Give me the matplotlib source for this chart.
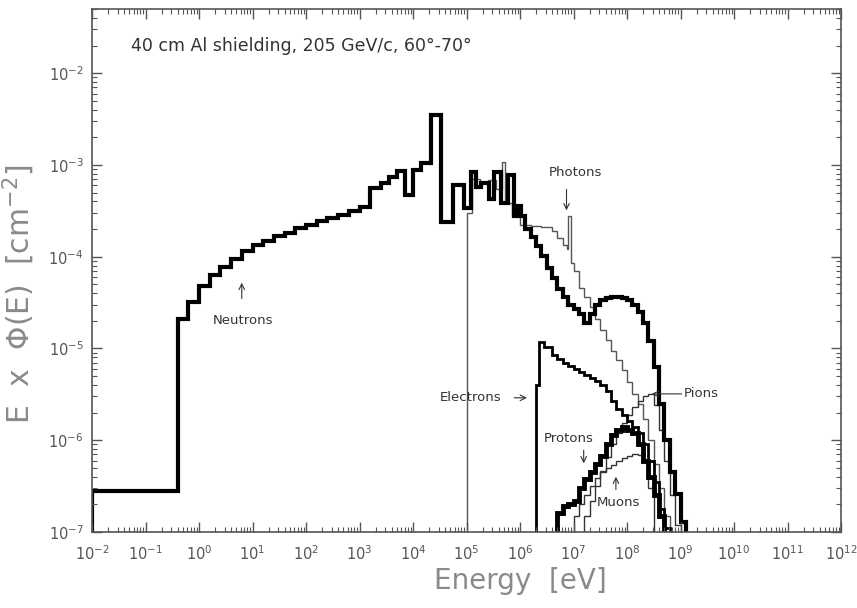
import numpy as np
import matplotlib
matplotlib.use("Agg")
import matplotlib.pyplot as plt

# ---------------- data (log10 of energy bin edges in eV, flux values) ----------------
neutron_edges_log = [-2.0, -0.4, -0.2, 0.0, 0.2, 0.4, 0.6, 0.8, 1.0, 1.2, 1.4, 1.6, 1.8,
                     2.0, 2.2, 2.4, 2.6, 2.8, 3.0, 3.2, 3.4, 3.55, 3.7, 3.85, 4.0, 4.15,
                     4.33, 4.52, 4.74, 4.95, 5.08, 5.17, 5.28, 5.42, 5.51, 5.64, 5.77, 5.88,
                     5.96, 6.01, 6.1, 6.2, 6.3, 6.4, 6.5, 6.6, 6.7, 6.8, 6.9, 7.0, 7.1,
                     7.2, 7.3, 7.4, 7.5, 7.6, 7.7, 7.8, 7.9, 8.0, 8.1, 8.2, 8.3, 8.4, 8.5,
                     8.6, 8.7, 8.8, 8.9, 9.0, 9.1]
neutron_flux = [2.8e-7, 2.1e-5, 3.2e-5, 4.8e-5, 6.3e-5, 7.8e-5, 9.5e-5, 1.15e-4, 1.35e-4,
                1.48e-4, 1.66e-4, 1.82e-4, 2.04e-4, 2.24e-4, 2.45e-4, 2.63e-4, 2.88e-4,
                3.16e-4, 3.47e-4, 5.6e-4, 6.3e-4, 7.4e-4, 8.5e-4, 4.7e-4, 8.7e-4, 1.05e-3,
                3.5e-3, 2.4e-4, 6.0e-4, 3.4e-4, 8.3e-4, 5.8e-4, 6.3e-4, 4.2e-4, 8.3e-4,
                3.8e-4, 7.8e-4, 2.8e-4, 3.6e-4, 2.8e-4, 2.0e-4, 1.62e-4, 1.32e-4, 1.02e-4,
                7.6e-5, 5.8e-5, 4.5e-5, 3.6e-5, 3.0e-5, 2.7e-5, 2.35e-5, 1.9e-5, 2.4e-5,
                3.0e-5, 3.4e-5, 3.55e-5, 3.6e-5, 3.6e-5, 3.55e-5, 3.4e-5, 3.0e-5, 2.5e-5,
                1.9e-5, 1.2e-5, 6.3e-6, 2.5e-6, 1.0e-6, 4.5e-7, 2.6e-7, 1.3e-7]

photon_edges_log = [5.0, 5.1, 5.25, 5.4, 5.55, 5.66, 5.72, 5.85, 6.0, 6.2, 6.4, 6.6, 6.7,
                    6.8, 6.87, 6.9, 6.95, 7.0, 7.1, 7.2, 7.3, 7.4, 7.5, 7.6, 7.7, 7.8, 7.9,
                    8.0, 8.1, 8.2, 8.3, 8.4, 8.5, 8.6, 8.7, 8.8]
photon_flux = [3.0e-4, 7.0e-4, 6.3e-4, 6.8e-4, 5.5e-4, 1.07e-3, 3.8e-4, 2.8e-4, 2.2e-4,
               2.15e-4, 2.1e-4, 1.9e-4, 1.6e-4, 1.35e-4, 1.2e-4, 2.75e-4, 8.5e-5, 7.0e-5,
               4.6e-5, 3.6e-5, 2.8e-5, 2.1e-5, 1.6e-5, 1.25e-5, 9.5e-6, 7.5e-6, 5.8e-6,
               4.3e-6, 3.2e-6, 2.5e-6, 1.7e-6, 1.0e-6, 5.5e-7, 3.0e-7, 1.5e-7]

electron_edges_log = [6.3, 6.35, 6.45, 6.6, 6.7, 6.8, 6.9, 7.0, 7.1, 7.2, 7.3, 7.4, 7.5,
                      7.6, 7.7, 7.8, 7.9, 8.0, 8.1, 8.2, 8.3, 8.4, 8.5, 8.6, 8.7, 8.8]
electron_flux = [4.0e-6, 1.17e-5, 1.05e-5, 8.5e-6, 7.6e-6, 7.0e-6, 6.5e-6, 6.0e-6, 5.6e-6,
                 5.2e-6, 4.8e-6, 4.4e-6, 4.0e-6, 3.4e-6, 2.7e-6, 2.2e-6, 1.9e-6, 1.6e-6,
                 1.4e-6, 1.2e-6, 9.0e-7, 6.0e-7, 3.5e-7, 1.8e-7, 1.1e-7]

proton_edges_log = [6.7, 6.8, 6.9, 7.0, 7.1, 7.2, 7.3, 7.4, 7.5, 7.6, 7.7, 7.8, 7.9,
                    8.0, 8.1, 8.2, 8.3, 8.4, 8.5, 8.6, 8.7]
proton_flux = [1.6e-7, 1.9e-7, 2.0e-7, 2.2e-7, 3.0e-7, 3.8e-7, 4.5e-7, 5.5e-7, 6.8e-7,
               9.0e-7, 1.15e-6, 1.3e-6, 1.38e-6, 1.3e-6, 1.2e-6, 9.0e-7, 6.0e-7, 4.0e-7,
               2.5e-7, 1.5e-7]

muon_edges_log = [7.0, 7.1, 7.2, 7.3, 7.4, 7.5, 7.6, 7.7, 7.8, 7.9, 8.0, 8.1, 8.2, 8.3,
                  8.4, 8.5]
muon_flux = [1.5e-7, 2.0e-7, 2.5e-7, 3.2e-7, 3.9e-7, 4.6e-7, 5.0e-7, 5.4e-7, 5.9e-7,
             6.4e-7, 6.8e-7, 7.1e-7, 6.9e-7, 5.9e-7, 3.0e-7]

pion_edges_log = [7.2, 7.3, 7.4, 7.5, 7.6, 7.7, 7.8, 7.9, 8.0, 8.1, 8.2, 8.3, 8.4, 8.5,
                  8.6, 8.7, 8.8, 8.9, 9.0]
pion_flux = [1.5e-7, 2.2e-7, 3.2e-7, 4.5e-7, 6.5e-7, 9.0e-7, 1.2e-6, 1.55e-6, 1.9e-6,
             2.3e-6, 2.7e-6, 3.0e-6, 3.2e-6, 2.4e-6, 1.3e-6, 6.0e-7, 2.5e-7, 1.2e-7]

x_ticks_exp = list(range(-2, 13))
y_ticks_exp = list(range(-7, -1))

# ---------------- figure ----------------
fig = plt.figure(figsize=(8.57, 6.08), dpi=100)
ax = fig.add_axes([92 / 857, 76 / 608, 749 / 857, 523 / 608])
ax.set_xscale("log")
ax.set_yscale("log")
ax.set_xlim(1e-2, 1e12)
ax.set_ylim(1e-7, 5e-2)

def draw(edges_log, flux, lw, color):
    ax.stairs(flux, 10.0 ** np.array(edges_log), baseline=1e-9, color=color,
              linewidth=lw, joinstyle="miter")

draw(photon_edges_log, photon_flux, 1.0, "#555555")
draw(pion_edges_log, pion_flux, 1.0, "#333333")
draw(muon_edges_log, muon_flux, 1.0, "#333333")
draw(electron_edges_log, electron_flux, 2.0, "black")
draw(proton_edges_log, proton_flux, 3.5, "black")
draw(neutron_edges_log, neutron_flux, 3.0, "black")

ax.set_xticks([10.0 ** e for e in x_ticks_exp])
ax.set_xticklabels([r"$10^{%d}$" % e for e in x_ticks_exp])
ax.set_yticks([10.0 ** e for e in y_ticks_exp])
ax.set_yticklabels([r"$10^{%d}$" % e for e in y_ticks_exp])
ax.xaxis.set_minor_locator(matplotlib.ticker.LogLocator(base=10, subs=np.arange(2, 10), numticks=100))
ax.yaxis.set_minor_locator(matplotlib.ticker.LogLocator(base=10, subs=np.arange(2, 10), numticks=100))
ax.xaxis.set_minor_formatter(matplotlib.ticker.NullFormatter())
ax.yaxis.set_minor_formatter(matplotlib.ticker.NullFormatter())
ax.tick_params(which="both", direction="in", top=True, right=True, colors="#555555",
               labelcolor="#555555", labelsize=10.5)
ax.tick_params(axis="x", which="major", pad=9)
ax.tick_params(axis="y", which="major", pad=6)
ax.tick_params(which="major", length=7, width=1.0)
ax.tick_params(which="minor", length=3.5, width=0.8)
for s in ax.spines.values():
    s.set_color("#555555")
    s.set_linewidth(1.2)

ax.set_xlabel("Energy  [eV]", fontsize=20, color="#8a8a8a")
ax.xaxis.set_label_coords(0.572, -0.066)
ax.set_ylabel(r"E  x  $\Phi$(E)  [cm$^{-2}$]", fontsize=21.5, color="#8a8a8a")
ax.yaxis.set_label_coords(-0.074, 0.455)

ax.text(0.052, 0.93, "40 cm Al shielding, 205 GeV/c, 60\u00b0-70\u00b0", transform=ax.transAxes,
        fontsize=12.5, color="#333333", va="center", ha="left")

tc = "#333333"
fs = 9.5
arrow = dict(arrowstyle="->", color=tc, lw=0.8, shrinkA=0, shrinkB=0)
ax.text(6.6, 2.0e-5, "Neutrons", fontsize=fs, color=tc, ha="center", va="center")
ax.annotate("", xy=(6.3, 5.2e-5), xytext=(6.3, 3.5e-5), arrowprops=arrow)
ax.text(1.1e7, 8.3e-4, "Photons", fontsize=fs, color=tc, ha="center", va="center")
ax.annotate("", xy=(7.4e6, 3.2e-4), xytext=(7.4e6, 5.4e-4), arrowprops=arrow)
ax.text(1.2e5, 2.9e-6, "Electrons", fontsize=fs, color=tc, ha="center", va="center")
ax.annotate("", xy=(1.35e6, 2.9e-6), xytext=(7.8e5, 2.9e-6), arrowprops=arrow)
ax.text(1.15e9, 3.2e-6, "Pions", fontsize=fs, color=tc, ha="left", va="center")
ax.annotate("", xy=(2.9e8, 3.2e-6), xytext=(1.05e9, 3.2e-6), arrowprops=arrow)
ax.text(8.1e6, 1.04e-6, "Protons", fontsize=fs, color=tc, ha="center", va="center")
ax.annotate("", xy=(1.55e7, 5.6e-7), xytext=(1.55e7, 7.8e-7), arrowprops=arrow)
ax.text(6.9e7, 2.1e-7, "Muons", fontsize=fs, color=tc, ha="center", va="center")
ax.annotate("", xy=(6.2e7, 4.0e-7), xytext=(6.2e7, 2.9e-7), arrowprops=arrow)

fig.savefig("out.png", dpi=100)
